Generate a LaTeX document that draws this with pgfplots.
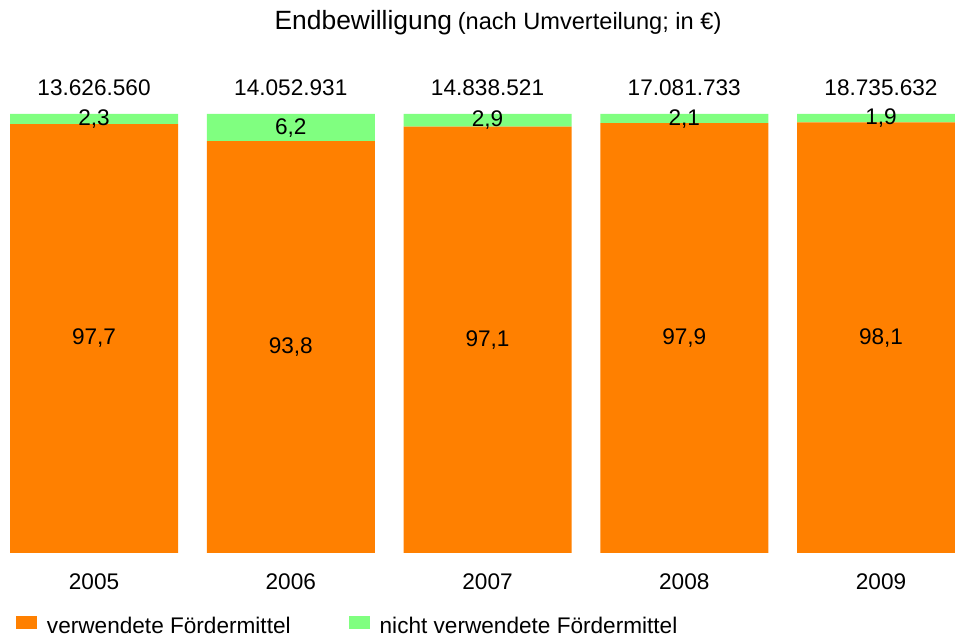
\documentclass[border=0pt]{standalone}
\usepackage{pgfplots}
\pgfplotsset{compat=1.18}
\usepackage{pgfplotstable}
\usepackage{fontspec}
\setmainfont{Liberation Sans}
\definecolor{orangebar}{RGB}{255,128,0}
\definecolor{greenbar}{RGB}{128,255,128}
\newcommand\lf{\fontsize{11.3pt}{13pt}\selectfont}

\pgfplotstableread{
x used notused top total mid1 mid2 lab1 lab2
0 97.7 2.3 100 13.626.560 48.85 98.85 97,7 2,3
1 93.8 6.2 100 14.052.931 46.90 96.90 93,8 6,2
2 97.1 2.9 100 14.838.521 48.55 98.55 97,1 2,9
3 97.9 2.1 100 17.081.733 48.95 98.95 97,9 2,1
4 98.1 1.9 100 18.735.632 49.05 99.05 98,1 1,9
}\data

\begin{document}
\begin{tikzpicture}
\pgfplotsset{
  common/.style={
    at={(0pt,0pt)}, anchor=south west,
    scale only axis, width=477.5pt, height=219.5pt,
    xmin=-0.478, xmax=4.376, ymin=0, ymax=100,
    enlargelimits=false,
  }
}
\begin{axis}[common,
  ybar stacked, bar width=0.854,
  xtick={0,1,2,3,4},
  xticklabels={2005,2006,2007,2008,2009},
  xticklabel style={anchor=base, yshift=-18.5pt, font=\lf},
  /pgf/number format/assume math mode=true,
  ytick=\empty,
  axis line style={draw=none},
  tick style={draw=none},
  title={{\fontsize{13.2pt}{15pt}\selectfont Endbewilligung} {\fontsize{11.8pt}{15pt}\selectfont(nach Umverteilung; in €)}},
  title style={at={(0.5215,1.164)}, anchor=base, inner sep=0pt},
  legend columns=2,
  legend style={at={(0.01675,-0.1905)}, anchor=south west, draw=none, fill=none,
    font=\lf, inner sep=0pt, outer sep=0pt,
    nodes={inner sep=0pt},
    /tikz/every odd column/.append style={column sep=5pt},
    /tikz/every even column/.append style={column sep=29pt}},
  legend image code/.code={\fill[#1] (0pt,-1pt) rectangle (10.5pt,5.5pt);},
]
\addplot[fill=orangebar, draw=none] table[x=x, y=used] {\data};
\addlegendentry{verwendete Fördermittel}
\addplot[fill=greenbar, draw=none] table[x=x, y=notused] {\data};
\addlegendentry{nicht verwendete Fördermittel}
\end{axis}
\begin{axis}[common, hide axis, clip=false]
\addplot[draw=none, mark=none, nodes near coords, point meta=explicit symbolic,
  nodes near coords style={anchor=center, font=\lf, text=black}]
  table[x=x, y=mid1, meta=lab1] {\data};
\addplot[draw=none, mark=none, nodes near coords, point meta=explicit symbolic,
  nodes near coords style={anchor=center, font=\lf, text=black}]
  table[x=x, y=mid2, meta=lab2] {\data};
\addplot[draw=none, mark=none, nodes near coords, point meta=explicit symbolic,
  nodes near coords style={anchor=base, yshift=9pt, font=\lf, text=black}]
  table[x=x, y=top, meta=total] {\data};
\end{axis}
\pgfresetboundingbox
\path[use as bounding box] (0pt,-42pt) rectangle (477.5pt,276.5pt);
\end{tikzpicture}
\end{document}
